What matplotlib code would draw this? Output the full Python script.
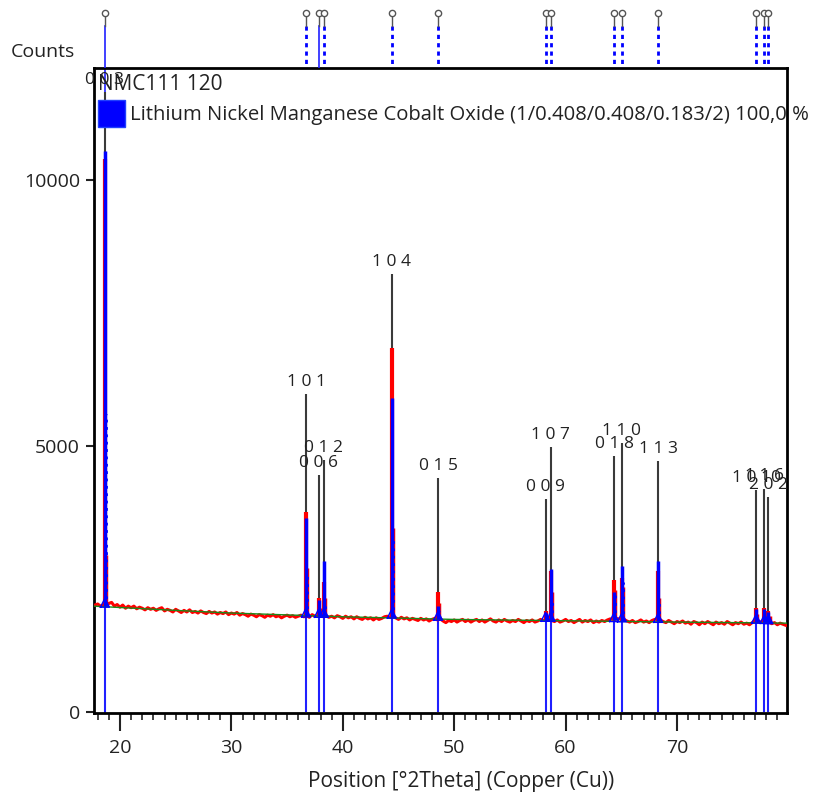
import numpy as np
import matplotlib
matplotlib.use("Agg")
import matplotlib.pyplot as plt
from matplotlib.patches import Rectangle

plt.rcParams['font.family'] = ['Open Sans', 'DejaVu Sans']

W, H = 818, 797
txt_col = '#222222'

# measured scan (red), step 0.25 deg starting at 17.75
scan_start = 17.75
scan_step = 0.25
scan_counts = [
    2010,
    2030, 1990, 2010, 2000,
    2040, 2060, 1990, 2020,
    1970, 2010, 1950, 1990,
    1960, 1990, 1940, 1970,
    1950, 1920, 1960, 1930,
    1950, 1910, 1940, 1960,
    1900, 1930, 1910, 1880,
    1930, 1900, 1870, 1910,
    1880, 1920, 1870, 1890,
    1860, 1900, 1870, 1850,
    1890, 1860, 1880, 1840,
    1870, 1850, 1880, 1830,
    1860, 1840, 1870, 1820,
    1850, 1830, 1800, 1840,
    1820, 1790, 1830, 1810,
    1780, 1820, 1800, 1830,
    1790, 1810, 1770, 1800,
    1820, 1790, 1810, 1780,
    1800, 1820, 1790, 1810,
    1780, 1830, 1800, 1810,
    1820, 1790, 1810, 1780,
    1800, 1770, 1810, 1790,
    1760, 1800, 1770, 1790,
    1750, 1790, 1760, 1740,
    1780, 1750, 1770, 1730,
    1770, 1740, 1760, 1790,
    1800, 1780, 1790, 1770,
    1740, 1780, 1750, 1770,
    1730, 1760, 1740, 1720,
    1760, 1730, 1750, 1710,
    1740, 1760, 1730, 1750,
    1710, 1680, 1720, 1700,
    1730, 1690, 1720, 1740,
    1700, 1730, 1690, 1720,
    1740, 1700, 1730, 1690,
    1720, 1750, 1710, 1690,
    1730, 1700, 1740, 1710,
    1690, 1720, 1700, 1740,
    1710, 1680, 1720, 1700,
    1730, 1690, 1710, 1740,
    1720, 1730, 1740, 1720,
    1700, 1730, 1690, 1710,
    1740, 1700, 1720, 1680,
    1710, 1740, 1690, 1720,
    1700, 1730, 1680, 1710,
    1690, 1720, 1700, 1730,
    1750, 1740, 1760, 1750,
    1760, 1740, 1710, 1690,
    1720, 1680, 1700, 1730,
    1690, 1710, 1680, 1720,
    1740, 1750, 1730, 1700,
    1680, 1720, 1690, 1660,
    1700, 1680, 1710, 1670,
    1690, 1650, 1700, 1680,
    1640, 1690, 1660, 1700,
    1670, 1640, 1690, 1660,
    1680, 1650, 1700, 1670,
    1640, 1680, 1660, 1690,
    1650, 1670, 1640, 1680,
    1720, 1700, 1690, 1720,
    1710, 1690, 1660, 1680,
    1640, 1670, 1650, 1630,
]

# fitted background (green)
bg_x = [17.6, 25, 30, 40, 50, 60, 70, 79.9]
bg_y = [1990, 1910, 1860, 1790, 1740, 1715, 1690, 1670]

# reflections of the reference pattern
peak_pos = [18.65, 36.70, 37.86, 38.30, 44.40, 48.55, 58.20, 58.65, 64.35, 65.05, 68.30, 77.10, 77.85, 78.20]
peak_hkl = ["0 0 3", "1 0 1", "0 0 6", "0 1 2", "1 0 4", "0 1 5", "0 0 9", "1 0 7",
            "0 1 8", "1 1 0", "1 1 3", "1 0 10", "1 1 6", "2 0 2"]
peak_base = [1990, 1805, 1800, 1800, 1785, 1745, 1725, 1725, 1720, 1715, 1705, 1690, 1685, 1680]
obs_top = [10400, 3760, 2150, 2450, 6850, 2250, 1900, 2650, 2480, 2520, 2650, 1950, 1950, 1900]
calc_top = [10550, 3650, 2100, 2840, 5900, 2000, 1860, 2690, 2250, 2740, 2840, 1930, 1930, 1880]
obs_k2 = [2950, 2700, 1950, 2150, 3450, 2050, 1800, 2250, 2300, 2350, 2150, 1850, 1850, 1800]
calc_k2 = [5600, 2600, 1900, 2050, 3300, 1900, 1780, 2150, 2200, 2450, 2050, 1830, 1830, 1790]
stick_top = [11650, 5980, 4450, 4740, 8230, 4400, 4000, 4980, 4810, 5050, 4720, 4170, 4200, 4040]

fig = plt.figure(figsize=(W / 100, H / 100), dpi=100)
ax = fig.add_axes([94 / W, 1 - 713 / H, (787 - 94) / W, (713 - 68) / H])
ax.set_xlim(17.67, 79.87)
ax.set_ylim(-19, 12105)

scan_x = scan_start + scan_step * np.arange(len(scan_counts))

# reference sticks below the pattern
ax.vlines(peak_pos, 0, peak_base, color='#2020ff', lw=1.5, zorder=1)
ax.axvline(peak_pos[0], color='#2020ff', lw=1.2, zorder=1)

# hkl marker lines
ax.vlines(peak_pos, peak_base, stick_top, color='#3a3a3a', lw=1.5, zorder=2)

# observed data
ax.plot(scan_x, scan_counts, color='red', lw=2.2, zorder=3)
ax.vlines(peak_pos, peak_base, obs_top, color='red', lw=3, zorder=3)
k2_pos = [p + 0.1 for p in peak_pos]
ax.vlines(k2_pos, peak_base, obs_k2, color='red', lw=2.5, zorder=3)

# background
ax.plot(bg_x, bg_y, color='#1a8a1a', lw=1.0, zorder=4)

# calculated profile
ax.vlines(peak_pos, peak_base, calc_top, color='blue', lw=2.5, zorder=5)
ax.vlines(k2_pos, peak_base, calc_k2, color='blue', lw=2, linestyles=':', zorder=5)
for p, b in zip(peak_pos, peak_base):
    ax.plot([p - 0.4, p, p + 0.4, p - 0.4], [b - 20, b + 150, b - 20, b - 20],
            color='blue', lw=1.0, zorder=5)

for p, t, lab in zip(peak_pos, stick_top, peak_hkl):
    a = ax.annotate(lab, (p, t), xytext=(0, 3), textcoords='offset points',
                    ha='center', va='bottom', fontsize=12.5, color=txt_col, zorder=6)
    a.set_clip_on(True)

ax.set_xticks([20, 30, 40, 50, 60, 70])
ax.set_xticks(np.arange(18, 80, 1), minor=True)
ax.set_yticks([0, 5000, 10000])
ax.tick_params(axis='x', which='major', length=13, width=1.5, pad=6, labelsize=14, colors=txt_col)
ax.tick_params(axis='x', which='minor', length=5, width=1.2, colors=txt_col)
ax.tick_params(axis='y', which='major', length=6, width=1.5, pad=4, labelsize=14, colors=txt_col)
ax.tick_params(axis='y', which='minor', length=0)
for s in ax.spines.values():
    s.set_linewidth(2)

# legend block
fig.text(98 / W, 1 - 84 / H, "NMC111 120", fontsize=15, color=txt_col, va='center')
fig.patches.append(Rectangle((98 / W, 1 - 127 / H), 27 / W, 27 / H, transform=fig.transFigure,
                             facecolor='blue', edgecolor='#2040ff', lw=1))
fig.text(130 / W, 1 - 115 / H,
         "Lithium Nickel Manganese Cobalt Oxide (1/0.408/0.408/0.183/2) 100,0 %",
         fontsize=14.6, color=txt_col, va='center')

# peak list strip above the plot
top = fig.add_axes([94 / W, 1 - 68 / H, (787 - 94) / W, 68 / H])
top.set_xlim(ax.get_xlim())
top.set_ylim(68, 0)
top.axis('off')
for i, p in enumerate(peak_pos):
    if i in (0, 2):
        top.plot([p, p], [26, 68], color='#2020ff', lw=1.2)
    else:
        top.plot([p, p], [26, 68], color='blue', lw=2, ls=(0, (1.5, 1.5)))
    top.plot([p, p], [15, 26], color='#555555', lw=1)
    top.plot(p, 13, marker='o', ms=4.5, mfc='white', mec='#555555', mew=1)

fig.text(43 / W, 1 - 52 / H, "Counts", fontsize=14, color=txt_col, ha='center', va='center')
fig.text(461 / W, 1 - 782 / H, "Position [°2Theta] (Copper (Cu))", fontsize=15,
         color=txt_col, ha='center', va='center')

fig.savefig('out.png', dpi=100)
